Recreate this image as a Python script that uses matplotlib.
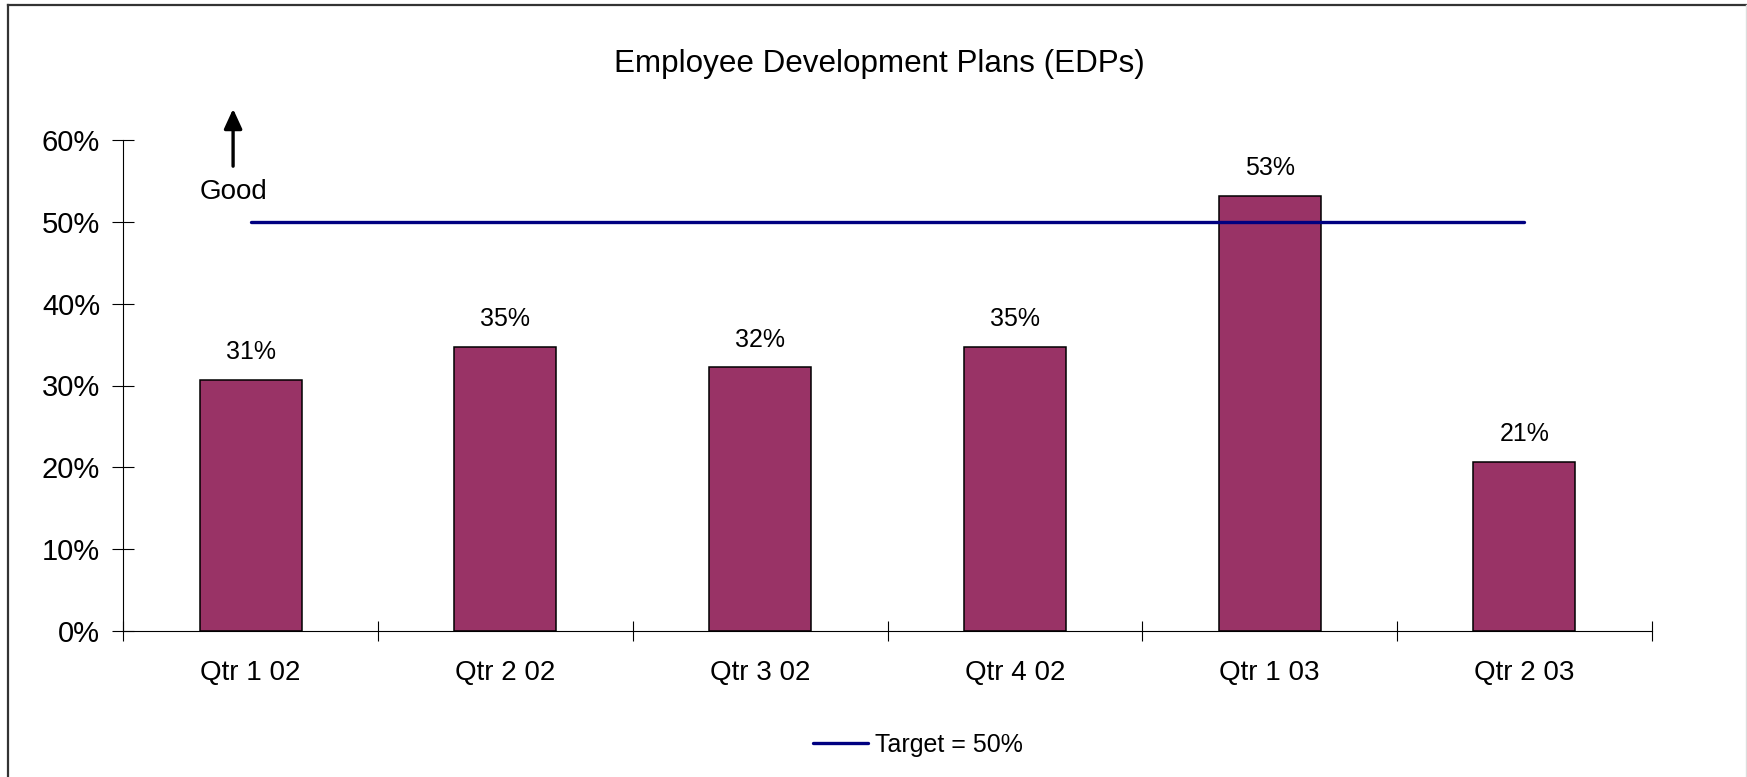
import numpy as np
import matplotlib.pyplot as plt
from matplotlib.lines import Line2D

plt.rcParams['font.family'] = ['Liberation Sans', 'DejaVu Sans']

quarters = ["Qtr 1 02", "Qtr 2 02", "Qtr 3 02", "Qtr 4 02", "Qtr 1 03", "Qtr 2 03"]
edp_rate = [0.307, 0.347, 0.322, 0.347, 0.532, 0.207]
target = 0.50
y_ticks = [0.0, 0.1, 0.2, 0.3, 0.4, 0.5, 0.6]

bar_color = "#993366"
line_color = "#000080"

W, H = 1747, 777
fig = plt.figure(figsize=(W / 100, H / 100), dpi=100)
ax = fig.add_axes([123.3 / W, 146 / H, (1651.7 - 123.3) / W, 491 / H])

x = np.arange(len(quarters))
bars = ax.bar(x, edp_rate, width=0.40, color=bar_color, edgecolor="black", linewidth=1.1, zorder=2)

# target line runs from first to last quarter
ax.plot([x[0], x[-1]], [target, target], color=line_color, lw=2.4, zorder=3,
        solid_capstyle="round", label=f"Target = {target:.0%}")

for xi, v in zip(x, edp_rate):
    ax.annotate(f"{v:.0%}", (xi, v), xytext=(0, 15), textcoords="offset points",
                ha="center", va="baseline", fontsize=18)

ax.set_xlim(-0.5, len(quarters) - 0.5)
ax.set_ylim(0, 0.6)

# category boundaries get crossing ticks, labels sit at the centres
ax.set_xticks(np.arange(len(quarters) + 1) - 0.5)
ax.set_xticklabels([])
ax.set_xticks(x, minor=True)
ax.set_xticklabels(quarters, minor=True, fontsize=20)
ax.tick_params(axis="x", which="major", direction="inout", length=14.4, width=0.8)
ax.tick_params(axis="x", which="minor", length=0, pad=21)

ax.set_yticks(y_ticks)
ax.set_yticklabels([f"{t:.0%}" for t in y_ticks], fontsize=21)
ax.tick_params(axis="y", direction="inout", length=16.5, width=0.8, pad=8.4)

for side in ["top", "right"]:
    ax.spines[side].set_visible(False)
for side in ["left", "bottom"]:
    ax.spines[side].set_linewidth(0.8)

# "Good" direction marker
ax.annotate("", xy=(-0.069, 0.638), xytext=(-0.069, 0.568),
            arrowprops=dict(arrowstyle="-|>,head_length=1.2,head_width=0.55",
                            color="black", lw=2.4, shrinkA=0, shrinkB=0),
            annotation_clip=False)
ax.text(-0.069, 0.528, "Good", ha="center", va="baseline", fontsize=20)

fig.text(879 / W, 1 - 71.7 / H, "Employee Development Plans (EDPs)",
         ha="center", va="baseline", fontsize=22.6)

fig.legend(handles=[Line2D([], [], color=line_color, lw=2.4, solid_capstyle="round")],
           labels=[f"Target = {target:.0%}"], loc="center",
           bbox_to_anchor=(918 / W, 1 - 745 / H), frameon=False, fontsize=18,
           handlelength=2.2, handletextpad=0.3, borderpad=0)

# outer frame
fig.add_artist(Line2D([7.5 / W, 7.5 / W], [0, 1 - 4.5 / H], color="#333333", lw=1.6))
fig.add_artist(Line2D([7.5 / W, 1745.5 / W], [1 - 4.5 / H, 1 - 4.5 / H], color="#333333", lw=1.6))
fig.add_artist(Line2D([1745.5 / W, 1745.5 / W], [0, 1 - 4.5 / H], color="#dddddd", lw=1))

fig.savefig("out.png", dpi=100)
